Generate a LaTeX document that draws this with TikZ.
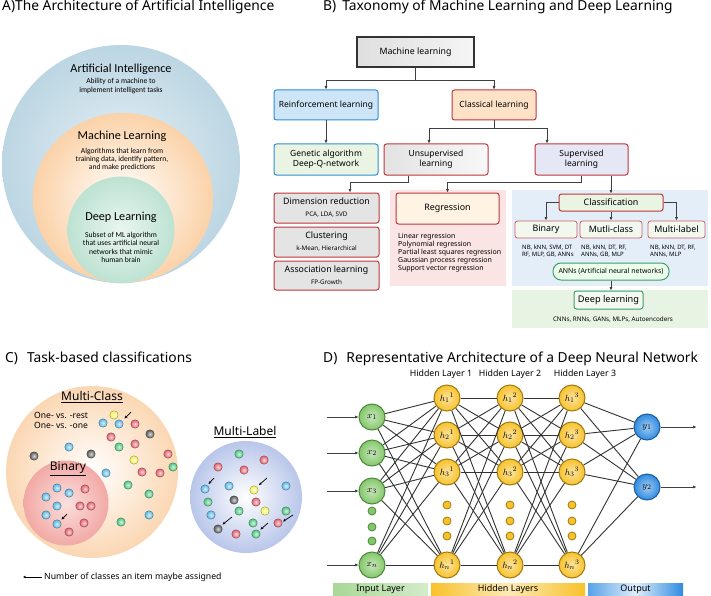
\documentclass[tikz,border=0pt]{standalone}
\usepackage{fontspec}
\setmainfont{Noto Sans}
\newfontfamily\calfont{Carlito}
\usetikzlibrary{arrows.meta}
\newcommand\fsz[2]{\fontsize{#1}{#2}\selectfont}
\definecolor{aBlueO}{HTML}{BCD6E3}
\definecolor{aBlueI}{HTML}{E6F0F5}
\definecolor{aOrng}{HTML}{FBD2A8}
\definecolor{aGrnO}{HTML}{BDE2D2}
\definecolor{aGrnI}{HTML}{EAF6F1}
\definecolor{bBlue}{HTML}{2E8FD6}
\definecolor{bBlueF}{HTML}{CDE5F7}
\definecolor{bRed}{HTML}{C0363A}
\definecolor{bPeach}{HTML}{FDE2C8}
\definecolor{bGrnF}{HTML}{E9F4E2}
\definecolor{bGray}{HTML}{E4E4E4}
\definecolor{bLav}{HTML}{E5E7F5}
\definecolor{regBg}{HTML}{FBE4E4}
\definecolor{regF}{HTML}{FFF3E3}
\definecolor{blueBg}{HTML}{E4EEF9}
\definecolor{grnBg}{HTML}{E7F3E3}
\definecolor{annG}{HTML}{3F9E6E}
\definecolor{dB}{HTML}{5CB8E4}
\definecolor{dR}{HTML}{E2616E}
\definecolor{dG}{HTML}{4CC47F}
\definecolor{dY}{HTML}{F3F25A}
\definecolor{dK}{HTML}{5A5A5A}
\definecolor{cOrng}{HTML}{FBD7B3}
\definecolor{cPink}{HTML}{F2A9A5}
\definecolor{cPinkI}{HTML}{FBE0DD}
\definecolor{cLav}{HTML}{B9C6EA}
\definecolor{nGrn}{HTML}{84C76A}
\definecolor{nGrnB}{HTML}{4A8A3A}
\definecolor{nYel}{HTML}{F8C22B}
\definecolor{nYelB}{HTML}{A07A10}
\definecolor{nBlu}{HTML}{2F8BE0}
\definecolor{nBluB}{HTML}{1D5C9C}
\begin{document}
\begin{tikzpicture}[x=1pt,y=-1pt,
  title/.style={font=\fsz{13.8}{15}, anchor=base west, inner sep=0pt},
  arr/.style={draw=black!75, line width=0.9pt, -{Latex[length=3.5pt,width=3.2pt]}},
  bbox/.style={draw, line width=1pt, rounded corners=2.5pt, inner sep=0pt, align=center},
  sm/.style={font=\calfont\fsz{7.6}{8.3}, align=center, inner sep=0pt},
  ahead/.style={font=\calfont\fsz{12.2}{13}},
  cdot/.style={draw=#1!60!black, line width=0.4pt, inner color=#1!25!white, outer color=#1},
  carr/.style={draw=black, line width=0.7pt, -{Stealth[length=3pt,width=2.6pt]}},
  nn/.style={circle, minimum size=26pt, inner sep=0pt, line width=1pt, font=\fsz{9.5}{10}},
  innode/.style={nn, draw=nGrnB, shade, inner color=nGrn!45!white, outer color=nGrn},
  hidnode/.style={nn, draw=nYelB, shade, inner color=nYel!45!white, outer color=nYel},
  outnode/.style={nn, draw=nBluB, shade, inner color=nBlu!45!white, outer color=nBlu},
  conn/.style={draw=black!80, line width=0.9pt},
  sdot/.style={circle, minimum size=8pt, inner sep=0pt, line width=0.8pt},
  bar/.style={minimum height=12pt, inner sep=0pt, font=\fsz{9}{10}}
]
\useasboundingbox (0,0) rectangle (711,596);
\fill[white] (0,0) rectangle (711,596);

% ---------- titles
\node[title] (ta) at (2,11) {A)The Architecture of Artificial Intelligence};
\node[title] (tb) at (323,11) {B)\hspace{6pt}Taxonomy of Machine Learning and Deep Learning};
\node[title] (tc) at (5,362) {C)\hspace{9pt}Task-based classifications};
\node[title] (td) at (323,362) {D)\hspace{9pt}Representative Architecture of a Deep Neural Network};

% ---------- panel A
\shade[outer color=aBlueO, inner color=aBlueI] (121,164) circle (119pt);
\shade[outer color=aOrng, inner color=white] (123,198) ellipse [x radius=90pt, y radius=85pt];
\shade[outer color=aGrnO, inner color=aGrnI] (121,230) circle (53.5pt);
\node[ahead] (ait) at (121,69) {Artificial Intelligence};
\node[sm] (aid) at (121,86) {Ability of a machine to\\implement intelligent tasks};
\node[ahead] (mlt) at (122,136) {Machine Learning};
\node[sm] (mld) at (122,159.5) {Algorithms that learn from\\training data, identify pattern,\\and make predictions};
\node[ahead] (dlt) at (121,217) {Deep Learning};
\node[sm] (dld) at (121,247.5) {Subset of ML algorithm\\that uses artificial neural\\networks that mimic\\human brain};

% ---------- panel B backgrounds
\fill[regBg] (390,190) rectangle (506,286);
\fill[blueBg] (512,190) rectangle (708,286);
\fill[grnBg] (512,290) rectangle (708,328);

% ---------- panel B boxes
\node[bbox, draw=black!80, rounded corners=0pt, line width=1.2pt, left color=gray!25, right color=gray!8, minimum width=117pt, minimum height=30pt, font=\fsz{8.8}{10}] (ml) at (415.5,52) {Machine learning};
\node[bbox, draw=bBlue, fill=bBlueF, minimum width=104pt, minimum height=30pt, font=\fsz{8.5}{10}] (rl) at (326,105) {Reinforcement learning};
\node[bbox, draw=bRed, fill=bPeach, minimum width=84pt, minimum height=30pt, font=\fsz{8.5}{10}] (cl) at (494,105) {Classical learning};
\node[bbox, draw=bBlue, fill=bGrnF, minimum width=104pt, minimum height=31pt, font=\fsz{8.5}{10}] (ga) at (326,159.5) {Genetic algorithm\\Deep-Q-network};
\node[bbox, draw=bRed, left color=gray!22, right color=gray!6, minimum width=104pt, minimum height=31pt, font=\fsz{8.5}{10}] (ul) at (436,159.5) {Unsupervised\\learning};
\node[bbox, draw=bRed, fill=bLav, minimum width=93pt, minimum height=31pt, font=\fsz{8.5}{10}] (sl) at (581.5,159.5) {Supervised\\learning};
\node[bbox, draw=bRed, fill=bGray, minimum width=105pt, minimum height=30pt] (dr) at (326.5,208) {\fsz{8.8}{10.5}Dimension reduction\\\fsz{6.3}{7.5}PCA, LDA, SVD};
\node[bbox, draw=bRed, fill=bGray, minimum width=105pt, minimum height=30pt] (cu) at (326.5,242) {\fsz{8.8}{10.5}Clustering\\\fsz{6.3}{7.5}k-Mean, Hierarchical};
\node[bbox, draw=bRed, fill=bGray, minimum width=105pt, minimum height=29pt] (al) at (326.5,275.5) {\fsz{8.8}{10.5}Association learning\\\fsz{6.3}{7.5}FP-Growth};
\node[bbox, draw=bRed, fill=regF, minimum width=103pt, minimum height=31pt, font=\fsz{8.9}{10}] (reg) at (447.5,208.5) {Regression};
\node[font=\fsz{7}{8}, align=left, anchor=north west, inner sep=0pt] (regl) at (398,233) {Linear regression\\Polynomial regression\\Partial least squares regression\\Gaussian process regression\\Support vector regression};
\node[bbox, draw=bRed, fill=bGrnF, minimum width=104pt, minimum height=17pt, font=\fsz{8.9}{10}] (cls) at (611,202.5) {Classification};
\node[bbox, draw=bRed!80, fill=bGrnF!60!white, line width=0.8pt, minimum width=62pt, minimum height=17pt, font=\fsz{8.9}{10}] (bin) at (546,229.5) {Binary};
\node[bbox, draw=bRed!80, fill=bGrnF!60!white, line width=0.8pt, minimum width=62pt, minimum height=17pt, font=\fsz{8.9}{10}] (mc) at (611,229.5) {Mutli-class};
\node[bbox, draw=bRed!80, fill=bGrnF!60!white, line width=0.8pt, minimum width=57pt, minimum height=17pt, font=\fsz{8.9}{10}] (mlb) at (676.5,229.5) {Multi-label};
\node[font=\fsz{6}{6.5}, align=left, anchor=west, inner sep=0pt] (binl) at (522,251) {NB, kNN, SVM, DT\\RF, MLP, GB, ANNs};
\node[font=\fsz{6}{6.5}, align=left, anchor=west, inner sep=0pt] (mcl) at (581,251) {NB, kNN, DT, RF,\\ANNs, GB, MLP};
\node[font=\fsz{6}{6.5}, align=left, anchor=west, inner sep=0pt] (mlbl) at (650,251) {NB, kNN, DT, RF,\\ANNs, MLP};
\node[bbox, draw=annG, fill=white!92!green, rounded corners=8pt, minimum width=116pt, minimum height=17pt, font=\fsz{6.9}{8}] (anns) at (611,271.5) {ANNs (Artificial neural networks)};
\node[bbox, draw=annG, fill=grnBg!50!white, minimum width=69pt, minimum height=18pt, font=\fsz{9.2}{10}] (dl) at (608.5,300) {Deep learning};
\node[font=\fsz{6.3}{7}, inner sep=0pt] (dlex) at (613,320) {CNNs, RNNs, GANs, MLPs, Autoencoders};

% ---------- panel B connectors
\draw[arr] (ml.south) -- ++(0,13) -| (rl.north);
\draw[arr] (ml.south) -- ++(0,13) -| (cl.north);
\draw[arr] (rl.south) -- (ga.north);
\draw[arr] (cl.south) -- ++(0,8) -| ([xshift=-7pt]ul.north);
\draw[arr] (cl.south) -- ++(0,8) -| ([xshift=-34.5pt]sl.north);
\draw[arr] ([xshift=-28pt]ul.south) -- ++(0,7) -| ([xshift=23.5pt]dr.north);
\draw[arr] (sl.south) -- ++(0,7) -| (reg.north);
\draw[arr] ([xshift=29.5pt]sl.south) -- (cls.north);
\draw[arr] (cls.west) -| (bin.north);
\draw[arr] (cls.south) -- (mc.north);
\draw[arr] (cls.east) -| (mlb.north);
\draw[arr] (anns.south) -- (anns.south |- dl.north);

% ---------- panel C
\shade[outer color=cOrng, inner color=white] (92,472) circle (86pt);
\shade[outer color=cPink, inner color=cPinkI] (66,503) circle (42.5pt);
\shade[outer color=cLav, inner color=white] (246,497) circle (56pt);
\node[font=\fsz{12}{13}] (mct) at (92,397) {\underline{Multi-Class}};
\node[font=\fsz{8.6}{9.5}, align=left, anchor=west, inner sep=0pt] (ovr) at (34,420.5) {One- vs. -rest\\One- vs. -one};
\node[font=\fsz{12}{13}] (bint) at (68,469) {\underline{Binary}};
\node[font=\fsz{12}{13}] (mlbt) at (245,432) {\underline{Multi-Label}};
\foreach \px/\py/\cc in {114/415/dY,119/424/dB,103/423/dB,135/424/dR,150/434/dK,111/437/dR,119/447/dG,135/444/dR,69/447/dB,34/456/dK,91/454/dK,168/454/dR,134/460/dY,173/467/dG,106/473/dB,142/472/dR,160/473/dR,128/485/dG,149/494/dG,149/515/dB,121/522/dG,
57/488/dB,69/493/dB,85/489/dR,46/497/dB,57/506/dB,80/506/dR,91/506/dR,46/515/dB,57/524/dB,84/523/dR,69/532/dR,
239/454/dG,218/467/dR,244/470/dR,264/460/dR,205/489/dB,229/486/dB,254/490/dY,286/486/dB,208/502/dG,234/500/dK,256/502/dR,211/515/dB,239/511/dG,265/511/dY,286/511/dG,218/529/dK,253/523/dG,278/523/dR,236/534/dR,256/534/dG}
  {\shade[cdot=\cc] (\px,\py) circle (4.2pt);}
\draw[carr] (131,412) -- (124.5,418.5);
\draw[carr] (67,514) -- (61.5,519.5);
\draw[carr] (214,478) -- (208.5,484);
\draw[carr] (267,478) -- (259,485);
\draw[carr] (232,517) -- (222.5,524.5);
\draw[carr] (293,515) -- (283,521.5);
\draw[carr] (268,523) -- (260.5,529.5);
\coordinate (lg1) at (42,577);
\coordinate (lg2) at (23,577);
\draw[carr] (lg1) -- (lg2);
\node[font=\fsz{8.7}{10}, anchor=west, inner sep=0pt] (lgt) at (44,577) {Number of classes an item maybe assigned};

% ---------- panel D
\node[font=\fsz{8.8}{10}] (hl1) at (441,374) {Hidden Layer 1};
\node[font=\fsz{8.8}{10}] (hl2) at (510,374) {Hidden Layer 2};
\node[font=\fsz{8.8}{10}] (hl3) at (585,374) {Hidden Layer 3};

\node[innode] (x1) at (372,417) {$x_1$};
\node[innode] (x2) at (372,453) {$x_2$};
\node[innode] (x3) at (372,491) {$x_3$};
\node[innode] (xn) at (372,565) {$x_n$};
\foreach \L/\X/\S in {a/447/1,b/510/2,c/572/3}{
  \node[hidnode] (h1\L) at (\X,398) {$h_1{}^{\S}$};
  \node[hidnode] (h2\L) at (\X,435) {$h_2{}^{\S}$};
  \node[hidnode] (h3\L) at (\X,472) {$h_3{}^{\S}$};
  \node[hidnode] (hn\L) at (\X,565) {$h_n{}^{\S}$};
  \foreach \Y in {505,521,536}{\node[sdot, draw=nYelB, fill=nYel] at (\X,\Y) {};}
}
\foreach \Y in {511,527,541}{\node[sdot, draw=nGrnB, fill=nGrn] at (372,\Y) {};}
\node[outnode] (y1) at (647,427) {$y_1$};
\node[outnode] (y2) at (647,487) {$y_2$};

\foreach \a in {x1,x2,x3,xn}{\foreach \b in {h1a,h2a,h3a,hna}{\draw[conn] (\a) -- (\b);}}
\foreach \a in {h1a,h2a,h3a,hna}{\foreach \b in {h1b,h2b,h3b,hnb}{\draw[conn] (\a) -- (\b);}}
\foreach \a in {h1b,h2b,h3b,hnb}{\foreach \b in {h1c,h2c,h3c,hnc}{\draw[conn] (\a) -- (\b);}}
\foreach \a in {h1c,h2c,h3c,hnc}{\foreach \b in {y1,y2}{\draw[conn] (\a) -- (\b);}}
\foreach \a in {x1,x2,x3,xn}{\draw[arr] ([xshift=-32pt]\a.west) -- (\a.west);}
\foreach \a in {y1,y2}{\draw[arr] (\a.east) -- ++(36,0);}

\node[bar, minimum width=95pt, left color=nGrn!70!white, right color=nGrn!35!white] (bin1) at (380.5,589) {Input Layer};
\node[bar, minimum width=154pt, left color=nYel, right color=nYel, middle color=nYel!35!white] (bin2) at (508,589) {Hidden Layers};
\node[bar, minimum width=95pt, left color=nBlu!80!white, right color=nBlu, middle color=nBlu!15!white] (bin3) at (635.5,589) {Output};
\end{tikzpicture}
\end{document}
